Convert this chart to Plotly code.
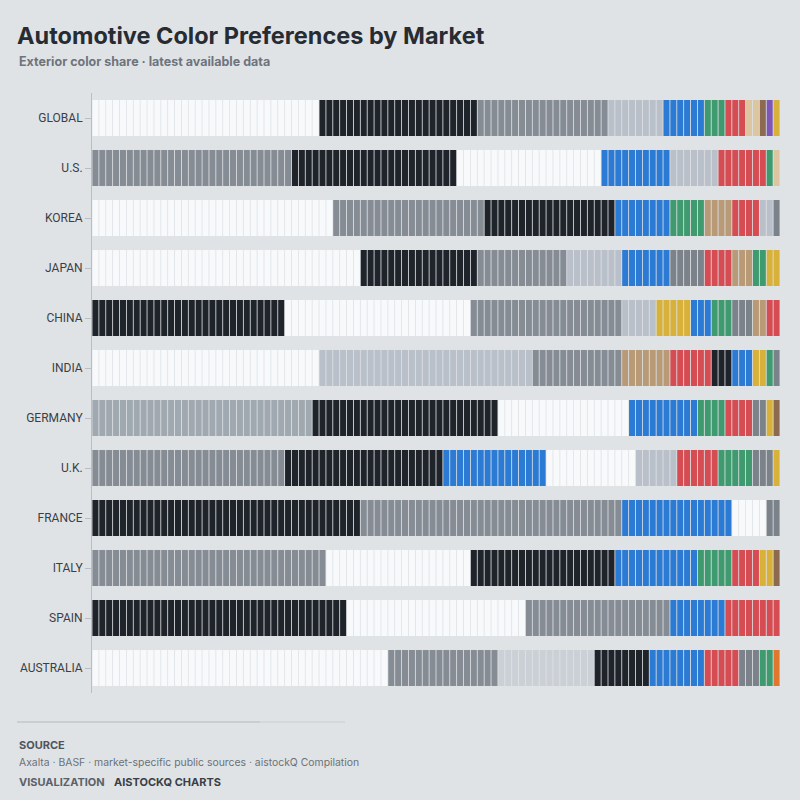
import plotly.graph_objects as go

# Markets, top to bottom
markets = ["GLOBAL", "U.S.", "KOREA", "JAPAN", "CHINA", "INDIA",
           "GERMANY", "U.K.", "FRANCE", "ITALY", "SPAIN", "AUSTRALIA"]

# Colour shares per market (percent, in display order)
global_colors = ["White", "Black", "Gray", "Silver", "Blue", "Green", "Red", "Beige", "Brown", "Purple", "Yellow"]
global_share = [33, 23, 19, 8, 6, 3, 3, 2, 1, 1, 1]
us_colors = ["Gray", "Black", "White", "Blue", "Silver", "Red", "Green", "Beige"]
us_share = [29, 24, 21, 10, 7, 7, 1, 1]
korea_colors = ["White", "Gray", "Black", "Blue", "Green", "Tan", "Red", "Silver", "Other"]
korea_share = [35, 22, 19, 8, 5, 4, 4, 2, 1]
japan_colors = ["White", "Black", "Gray", "Silver", "Blue", "Other", "Red", "Tan", "Green", "Yellow"]
japan_share = [39, 17, 13, 8, 7, 5, 4, 3, 2, 2]
china_colors = ["Black", "White", "Gray", "Silver", "Yellow", "Blue", "Green", "Other", "Tan", "Red"]
china_share = [28, 27, 22, 5, 5, 3, 3, 3, 2, 2]
india_colors = ["White", "Silver", "Gray", "Tan", "Red", "Black", "Blue", "Yellow", "Green", "Other"]
india_share = [33, 31, 13, 7, 6, 3, 3, 2, 1, 1]
germany_colors = ["Silver Gray", "Black", "White", "Blue", "Green", "Red", "Other", "Yellow", "Brown"]
germany_share = [32, 27, 19, 10, 4, 4, 2, 1, 1]
uk_colors = ["Gray", "Black", "Blue", "White", "Silver", "Red", "Green", "Other", "Yellow"]
uk_share = [28, 23, 15, 13, 6, 6, 5, 3, 1]
france_colors = ["Black", "Gray", "Blue", "White", "Other"]
france_share = [39, 38, 16, 5, 2]
italy_colors = ["Gray", "White", "Black", "Blue", "Green", "Red", "Yellow", "Brown"]
italy_share = [34, 21, 21, 12, 5, 4, 2, 1]
spain_colors = ["Black", "White", "Gray", "Blue", "Red"]
spain_share = [37, 26, 21, 8, 8]
australia_colors = ["White", "Gray", "Light Silver", "Black", "Blue", "Red", "Other", "Green", "Orange"]
australia_share = [43, 16, 14, 8, 8, 5, 3, 2, 1]

market_colors = [global_colors, us_colors, korea_colors, japan_colors, china_colors, india_colors,
                 germany_colors, uk_colors, france_colors, italy_colors, spain_colors, australia_colors]
market_shares = [global_share, us_share, korea_share, japan_share, china_share, india_share,
                 germany_share, uk_share, france_share, italy_share, spain_share, australia_share]

# Swatch for each paint colour
palette = {
    "White": "#f7f9fb",
    "Black": "#1f242b",
    "Gray": "#858c94",
    "Silver": "#b9c0c9",
    "Silver Gray": "#a0a8b0",
    "Light Silver": "#cad0d6",
    "Other": "#7b828a",
    "Blue": "#2b7bd4",
    "Green": "#3f9b6f",
    "Red": "#d54c53",
    "Beige": "#dcc5a1",
    "Tan": "#b99a77",
    "Brown": "#8c6a50",
    "Purple": "#7d56b6",
    "Yellow": "#d8b13b",
    "Orange": "#e0772f",
}

BG = "#e0e3e6"
GAP = 0.12  # gap between unit cells

# one cell per percentage point, grouped into a trace per colour
cells = {}
for market, cols, shares in zip(markets, market_colors, market_shares):
    start = 0
    for c, s in zip(cols, shares):
        for k in range(s):
            d = cells.setdefault(c, {"y": [], "base": []})
            d["y"].append(market)
            d["base"].append(start + k + GAP / 2)
        start += s

data = []
for c, d in cells.items():
    data.append(go.Bar(orientation="h", y=d["y"], x=[1 - GAP] * len(d["y"]), base=d["base"],
                       name=c, marker=dict(color=palette[c], line=dict(width=0)),
                       hovertemplate="%{y}<br>" + c + "<extra></extra>"))

fig = go.Figure(data=data)

L, T, W, H = 92, 93, 688, 600


def px(x):
    return (x - L) / W


def py(y):
    return (T + H - y) / H


fig.update_layout(
    width=800, height=800,
    paper_bgcolor=BG, plot_bgcolor=BG,
    margin=dict(l=L, r=800 - L - W, t=T, b=800 - T - H),
    barmode="overlay", bargap=0.28,
    showlegend=False,
    font=dict(family="Inter, Roboto, sans-serif", color="#3a3f45"),
    title=dict(text="<b>Automotive Color Preferences by Market</b>",
               x=17 / 800, xref="container", xanchor="left",
               y=1 - 36 / 800, yref="container", yanchor="middle",
               font=dict(size=23.5, color="#272c33", family="Inter, sans-serif")),
    xaxis=dict(range=[0, 100], visible=False, fixedrange=True),
    yaxis=dict(categoryorder="array", categoryarray=markets, autorange="reversed",
               showline=True, linecolor="#b9bec4", linewidth=1,
               ticks="outside", ticklen=6, tickcolor="#b9bec4",
               showgrid=False, tickfont=dict(family="Roboto, sans-serif", size=12, color="#3a3f45")),
)

annotations = [
    dict(text="<b>Exterior color share · latest available data</b>", x=px(17), y=py(61),
         font=dict(size=12.5, color="#6e747c")),
    dict(text="<b>SOURCE</b>", x=px(17), y=py(745), font=dict(size=11, color="#4e555d")),
    dict(text="Axalta · BASF · market-specific public sources · aistockQ Compilation", x=px(17), y=py(762),
         font=dict(size=10.4, color="#6b7178")),
    dict(text="<b>VISUALIZATION</b>", x=px(17), y=py(782), font=dict(size=11, color="#5b6168")),
    dict(text="<b>AISTOCKQ CHARTS</b>", x=px(112), y=py(782), font=dict(size=11, color="#393f46")),
]
for a in annotations:
    fig.add_annotation(xref="paper", yref="paper", xanchor="left", yanchor="middle",
                       showarrow=False, **a)

# footer rule, fading out to the right
fig.add_shape(type="line", xref="paper", yref="paper", x0=px(17), x1=px(260), y0=py(722), y1=py(722),
              line=dict(color="#b3b8be", width=1))
fig.add_shape(type="line", xref="paper", yref="paper", x0=px(260), x1=px(345), y0=py(722), y1=py(722),
              line=dict(color="#c9cdd2", width=1))

# drop the page margin so the figure sits at the window origin
fig.write_html("out.html", config={"displayModeBar": False},
               post_script="document.body.style.margin='0';")
